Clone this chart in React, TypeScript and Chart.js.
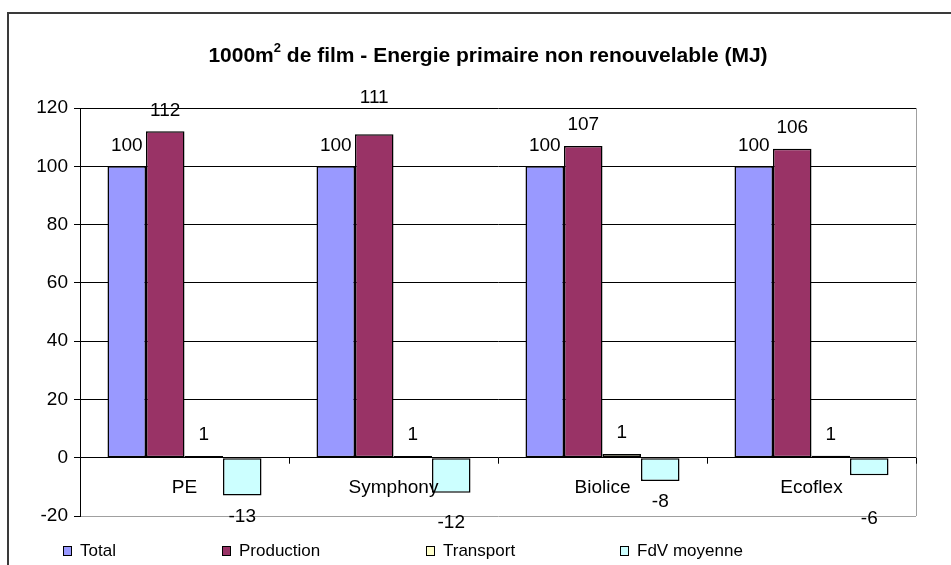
import { useEffect, useRef } from 'react';
import { Chart, registerables } from 'chart.js';

Chart.register(...registerables);

const categories = ['PE', 'Symphony', 'Biolice', 'Ecoflex'];
const seriesNames = ['Total', 'Production', 'Transport', 'FdV moyenne'];
const totalValues = [100, 100, 100, 100];
const productionValues = [112, 111, 107, 106];
const transportValues = [0.6, 0.6, 1.3, 0.7];
const fdvValues = [-13, -12, -8, -6];
const seriesColors = ['#9999FF', '#993366', '#FFFFCC', '#CCFFFF'];
const yMin = -20;
const yMax = 120;
const yStep = 20;
const titleMain = '1000m';
const titleSup = '2';
const titleRest = ' de film - Energie primaire non renouvelable (MJ)';

const FONT = '"Liberation Sans", Arial, sans-serif';

export default function App() {
  const ref = useRef<HTMLCanvasElement>(null);

  useEffect(() => {
    const canvas = ref.current!;
    const labelNudge: Record<string, number> = { '1-1': 15, '3-1': 9, '3-3': 23 };

    const overlay = {
      id: 'overlay',
      beforeDatasetsDraw(chart: any) {
        const { ctx, chartArea } = chart;
        ctx.save();
        ctx.strokeStyle = '#a0a0a0';
        ctx.lineWidth = 1;
        ctx.beginPath();
        ctx.moveTo(chartArea.right + 0.5, chartArea.top);
        ctx.lineTo(chartArea.right + 0.5, chartArea.bottom);
        ctx.stroke();
        ctx.restore();
      },
      afterDatasetsDraw(chart: any) {
        const { ctx, chartArea } = chart;
        const xs = chart.scales.x;
        const ys = chart.scales.y;
        const zeroY = ys.getPixelForValue(0);
        ctx.save();
        ctx.strokeStyle = '#000';
        ctx.lineWidth = 1;
        const catW = (chartArea.right - chartArea.left) / categories.length;
        for (let k = 1; k <= categories.length; k++) {
          const x = Math.round(chartArea.left + catW * k) + 0.5;
          ctx.beginPath();
          ctx.moveTo(x, zeroY);
          ctx.lineTo(x, zeroY + 6);
          ctx.stroke();
        }
        ctx.fillStyle = '#000';
        ctx.font = `19px ${FONT}`;
        ctx.textAlign = 'center';
        ctx.textBaseline = 'middle';
        categories.forEach((c, i) => {
          ctx.fillText(c, xs.getPixelForValue(i), zeroY + 30);
        });
        chart.data.datasets.forEach((ds: any, di: number) => {
          const meta = chart.getDatasetMeta(di);
          meta.data.forEach((el: any, i: number) => {
            const v = ds.data[i] as number;
            const nudge = labelNudge[`${di}-${i}`] || 0;
            const y = v >= 0 ? el.y - 21 - nudge : el.y + 21 + nudge;
            ctx.fillText(String(Math.round(v)), el.x, y);
          });
        });
        ctx.restore();
      },
      afterDraw(chart: any) {
        const { ctx } = chart;
        ctx.save();
        const bigSize = 21;
        const supSize = 13;
        ctx.textBaseline = 'alphabetic';
        ctx.textAlign = 'left';
        ctx.fillStyle = '#000';
        ctx.font = `bold ${bigSize}px ${FONT}`;
        const w1 = ctx.measureText(titleMain).width;
        const w3 = ctx.measureText(titleRest).width;
        ctx.font = `bold ${supSize}px ${FONT}`;
        const w2 = ctx.measureText(titleSup).width;
        const total = w1 + w2 + w3;
        let x = 488 - total / 2;
        const base = 62;
        ctx.font = `bold ${bigSize}px ${FONT}`;
        ctx.fillText(titleMain, x, base);
        x += w1;
        ctx.font = `bold ${supSize}px ${FONT}`;
        ctx.fillText(titleSup, x, base - 10);
        x += w2;
        ctx.font = `bold ${bigSize}px ${FONT}`;
        ctx.fillText(titleRest, x, base);
        const legendX = [63, 222, 426, 620];
        const ly = 551;
        ctx.font = `17px ${FONT}`;
        ctx.textBaseline = 'middle';
        seriesNames.forEach((name, i) => {
          const lx = legendX[i];
          ctx.fillStyle = seriesColors[i];
          ctx.fillRect(lx, ly - 4, 8, 9);
          ctx.strokeStyle = '#000';
          ctx.lineWidth = 1;
          ctx.strokeRect(lx + 0.5, ly - 4.5, 8, 9);
          ctx.fillStyle = '#000';
          ctx.fillText(name, lx + 17, ly);
        });
        ctx.restore();
      },
    };

    const seriesData = [totalValues, productionValues, transportValues, fdvValues];

    const chart = new Chart(canvas, {
      type: 'bar',
      data: {
        labels: categories,
        datasets: seriesNames.map((name, i) => ({
          label: name,
          data: seriesData[i],
          backgroundColor: seriesColors[i],
          borderColor: '#000',
          borderWidth: 1.5,
          borderSkipped: false,
          categoryPercentage: 0.737,
          barPercentage: 1,
        })),
      },
      options: {
        responsive: false,
        animation: false,
        layout: { padding: { left: 0, top: 108, right: 35, bottom: 49 } },
        plugins: {
          legend: { display: false },
          title: { display: false },
          tooltip: { enabled: false },
        },
        scales: {
          x: { display: false },
          y: {
            min: yMin,
            max: yMax,
            ticks: {
              stepSize: yStep,
              color: '#000',
              padding: 6,
              font: { family: FONT, size: 19 },
            },
            grid: {
              color: (c: any) => (c.tick && c.tick.value === yMin ? '#a0a0a0' : '#000'),
              tickColor: '#000',
              tickLength: 6,
              lineWidth: 1,
            },
            border: { color: '#000', width: 1 },
            afterFit: (s: any) => {
              s.width = 80;
            },
          },
        },
      },
      plugins: [overlay],
    });
    return () => chart.destroy();
  }, []);

  return (
    <div
      style={{
        position: 'fixed',
        left: 0,
        top: 0,
        width: 951,
        height: 565,
        overflow: 'hidden',
        background: '#fff',
      }}
    >
      <div
        style={{
          position: 'absolute',
          left: 7,
          top: 12,
          width: 1000,
          height: 600,
          borderLeft: '2px solid #3a3a3a',
          borderTop: '2px solid #3a3a3a',
        }}
      />
      <canvas ref={ref} width={951} height={565} style={{ position: 'absolute', left: 0, top: 0 }} />
    </div>
  );
}
